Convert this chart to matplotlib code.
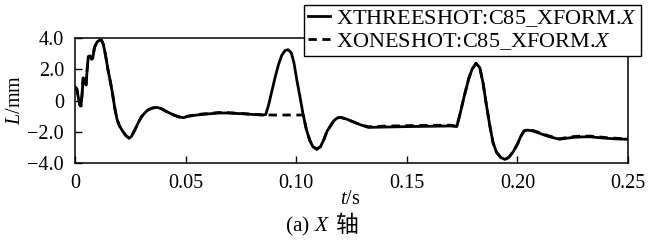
import matplotlib
matplotlib.use("Agg")
import matplotlib.pyplot as plt

plt.rcParams["font.family"] = ["Liberation Serif", "Noto Sans CJK SC"]
plt.rcParams["mathtext.fontset"] = "custom"
plt.rcParams["mathtext.rm"] = "Liberation Serif"
plt.rcParams["mathtext.it"] = "Liberation Serif:italic"
plt.rcParams["axes.unicode_minus"] = True

# three-shot curve (t in s, L in mm)
t_three = [0.0000, 0.0008, 0.0015, 0.0022, 0.0027, 0.0032, 0.0037, 0.0043, 0.0050, 0.0055,
           0.0060, 0.0068, 0.0075, 0.0080, 0.0088, 0.0100, 0.0112, 0.0120, 0.0128, 0.0138,
           0.0150, 0.0160, 0.0170, 0.0180, 0.0190, 0.0200, 0.0215, 0.0230, 0.0245, 0.0255,
           0.0270, 0.0285, 0.0300, 0.0315, 0.0330, 0.0350, 0.0370, 0.0390, 0.0410, 0.0430,
           0.0450, 0.0470, 0.0490, 0.0510, 0.0540, 0.0570, 0.0610, 0.0650, 0.0690, 0.0730,
           0.0770, 0.0810, 0.0850, 0.0862, 0.0875, 0.0890, 0.0905, 0.0920, 0.0935, 0.0950,
           0.0964, 0.0978, 0.0990, 0.1003, 0.1017, 0.1030, 0.1045, 0.1060, 0.1075, 0.1093,
           0.1110, 0.1125, 0.1140, 0.1153, 0.1170, 0.1185, 0.1201, 0.1230, 0.1257, 0.1290,
           0.1326, 0.1400, 0.1500, 0.1600, 0.1700, 0.1726, 0.1740, 0.1760, 0.1780, 0.1795,
           0.1813, 0.1830, 0.1845, 0.1860, 0.1876, 0.1890, 0.1905, 0.1925, 0.1944, 0.1960,
           0.1980, 0.2000, 0.2015, 0.2030, 0.2045, 0.2070, 0.2100, 0.2140, 0.2190, 0.2220,
           0.2253, 0.2290, 0.2328, 0.2370, 0.2404, 0.2450, 0.2500]
L_three = [0.86, 0.75, 0.20, -0.30, -0.35, 0.40, 1.44, 1.20, 1.00, 2.00,
           2.80, 2.85, 2.65, 2.70, 3.40, 3.75, 3.87, 3.85, 3.60, 2.90,
           1.90, 1.20, 0.40, -0.50, -1.20, -1.60, -1.95, -2.25, -2.42, -2.30,
           -1.90, -1.45, -1.05, -0.80, -0.60, -0.48, -0.44, -0.52, -0.68, -0.82,
           -0.95, -1.05, -1.10, -1.02, -0.95, -0.90, -0.85, -0.80, -0.80, -0.83,
           -0.86, -0.90, -0.93, -0.90, -0.30, 0.60, 1.50, 2.30, 2.90, 3.20,
           3.25, 3.05, 2.40, 1.30, 0.24, -0.80, -1.80, -2.50, -2.95, -3.12,
           -2.95, -2.50, -1.95, -1.67, -1.30, -1.12, -1.08, -1.20, -1.36, -1.55,
           -1.72, -1.70, -1.67, -1.65, -1.63, -1.67, -0.90, 0.30, 1.40, 2.00,
           2.38, 2.10, 1.10, -0.30, -1.67, -2.70, -3.30, -3.65, -3.77, -3.65,
           -3.30, -2.80, -2.30, -1.95, -1.89, -1.95, -2.10, -2.30, -2.48, -2.42,
           -2.36, -2.33, -2.32, -2.38, -2.42, -2.46, -2.48]

# one-shot curve: flat after 0.086 s until it meets the three-shot curve again
t_one = [0.0000, 0.0008, 0.0015, 0.0022, 0.0027, 0.0032, 0.0037, 0.0043, 0.0050, 0.0055,
         0.0060, 0.0068, 0.0075, 0.0080, 0.0088, 0.0100, 0.0112, 0.0120, 0.0128, 0.0138,
         0.0150, 0.0160, 0.0170, 0.0180, 0.0190, 0.0200, 0.0215, 0.0230, 0.0245, 0.0255,
         0.0270, 0.0285, 0.0300, 0.0315, 0.0330, 0.0350, 0.0370, 0.0390, 0.0410, 0.0430,
         0.0450, 0.0470, 0.0490, 0.0510, 0.0540, 0.0570, 0.0610, 0.0650, 0.0690, 0.0730,
         0.0770, 0.0810, 0.0850, 0.0900, 0.0950, 0.1000, 0.1032, 0.1045, 0.1060, 0.1075,
         0.1093, 0.1110, 0.1125, 0.1140, 0.1153, 0.1170, 0.1185, 0.1201, 0.1230, 0.1257,
         0.1290, 0.1326, 0.1400, 0.1500, 0.1600, 0.1700, 0.1726, 0.1740, 0.1760, 0.1780,
         0.1795, 0.1813, 0.1830, 0.1845, 0.1860, 0.1876, 0.1890, 0.1905, 0.1925, 0.1944,
         0.1960, 0.1980, 0.2000, 0.2015, 0.2030, 0.2045, 0.2070, 0.2100, 0.2140, 0.2190,
         0.2220, 0.2253, 0.2290, 0.2328, 0.2370, 0.2404, 0.2450, 0.2500]
L_one = [0.86, 0.75, 0.20, -0.30, -0.35, 0.40, 1.44, 1.20, 1.00, 2.00,
         2.80, 2.85, 2.65, 2.70, 3.40, 3.75, 3.87, 3.85, 3.60, 2.90,
         1.90, 1.20, 0.40, -0.50, -1.20, -1.60, -1.95, -2.25, -2.42, -2.30,
         -1.90, -1.45, -1.05, -0.80, -0.60, -0.48, -0.44, -0.52, -0.68, -0.82,
         -0.95, -1.05, -1.10, -1.00, -0.93, -0.87, -0.82, -0.77, -0.78, -0.81,
         -0.85, -0.88, -0.92, -0.93, -0.93, -0.93, -0.93, -1.80, -2.50, -2.95,
         -3.12, -2.95, -2.50, -1.95, -1.67, -1.30, -1.12, -1.08, -1.20, -1.36,
         -1.55, -1.68, -1.64, -1.61, -1.59, -1.58, -1.64, -0.90, 0.30, 1.40,
         2.00, 2.38, 2.10, 1.10, -0.30, -1.67, -2.70, -3.30, -3.65, -3.77,
         -3.65, -3.30, -2.80, -2.30, -1.95, -1.86, -1.92, -2.05, -2.26, -2.45,
         -2.38, -2.31, -2.28, -2.28, -2.33, -2.38, -2.42, -2.44]

xticks = [0, 0.05, 0.10, 0.15, 0.20, 0.25]
xtick_labels = ["0", "0.05", "0.10", "0.15", "0.20", "0.25"]
yticks = [4.0, 2.0, 0, -2.0, -4.0]
ytick_labels = ["4.0", "2.0", "0", "\u22122.0", "\u22124.0"]

W, H = 651, 241
fig = plt.figure(figsize=(W / 100, H / 100), dpi=100)
ax = fig.add_axes([75 / W, 1 - 163 / H, 553 / W, 125 / H])

ax.plot(t_three, L_three, color="black", lw=2.0, solid_joinstyle="round",
        label="XTHREESHOT:C85_XFORM.$X$")
ax.plot(t_one, L_one, color="black", lw=2.0, ls=(0, (3.0, 2.0)),
        label="XONESHOT:C85_XFORM.$X$")

ax.set_xlim(0, 0.25)
ax.set_ylim(-4.0, 4.0)
ax.set_xticks(xticks)
ax.set_xticklabels(xtick_labels)
ax.set_yticks(yticks)
ax.set_yticklabels(ytick_labels)
ax.tick_params(direction="in", length=5, width=1, labelsize=14.5, pad=8)
for s in ax.spines.values():
    s.set_linewidth(1.1)

fig.text(16 / W, 1 - 100 / H, "$L$/mm", fontsize=14.5, rotation=90,
         ha="center", va="center")
fig.text(350 / W, 1 - 199 / H, "$t$/s", fontsize=14.5, ha="center", va="center")
fig.text(330 / W, 1 - 226 / H, "(a) $X$", fontsize=15.5, ha="right", va="center")
fig.text(335 / W, 1 - 225 / H, "轴", fontsize=16.5, ha="left", va="center",
         family=["Noto Sans CJK SC"])

leg = fig.legend(loc="upper right", bbox_to_anchor=(641 / W, 1 - 5 / H),
                 fontsize=16, frameon=True, fancybox=False, framealpha=1,
                 edgecolor="black", handlelength=1.0, handletextpad=0.3,
                 labelspacing=0.1, borderpad=0.15, borderaxespad=0)
leg.get_frame().set_linewidth(1.0)

fig.savefig("out.png", dpi=100)
